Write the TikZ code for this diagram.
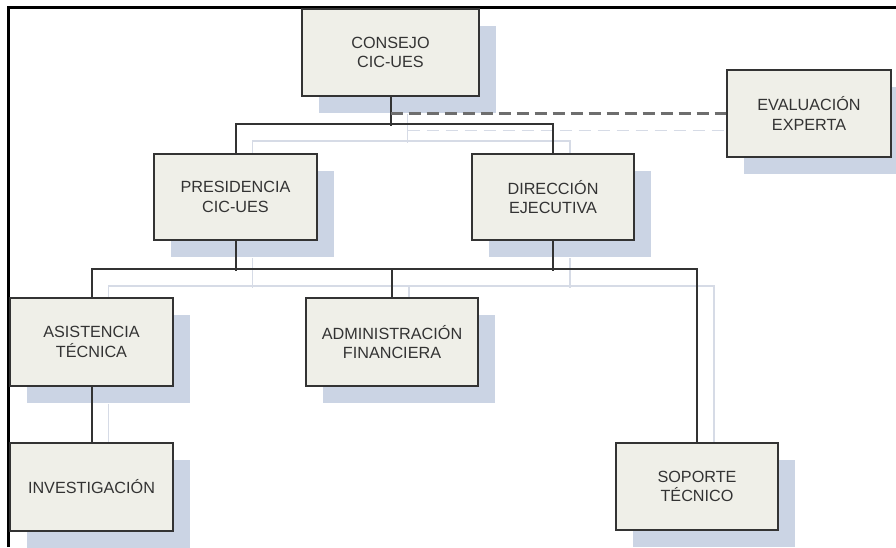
\documentclass[tikz,border=0pt]{standalone}
\usepackage{fontspec}
\setmainfont{Liberation Sans}
\usetikzlibrary{shadows,calc}
\pgfdeclarelayer{bg}
\pgfsetlayers{bg,main}
\definecolor{boxfill}{HTML}{EFEFE8}
\definecolor{shadowc}{HTML}{CBD4E4}
\definecolor{lightln}{HTML}{D6DBE6}
\definecolor{darkln}{HTML}{333333}
\definecolor{txtc}{HTML}{333333}
\definecolor{dashc}{HTML}{6E6E6E}
\begin{document}
\begin{tikzpicture}[x=1pt,y=-1pt,
  unit/.style={draw=darkln, line width=1.8pt, fill=boxfill, text=txtc,
    align=center, font=\fontsize{16.2}{19.5}\selectfont, inner sep=0pt,
    general shadow={fill=shadowc, shadow xshift=17pt, shadow yshift=-17pt}},
  link/.style={draw=darkln, line width=2pt},
  dashlink/.style={draw=dashc, line width=2.8pt, dash pattern=on 12pt off 6pt},
  ghost/.style={draw=lightln, line width=1.5pt},
  ghostdash/.style={draw=lightln, line width=1.5pt, dash pattern=on 12pt off 7pt},
  sh/.style={xshift=17pt, yshift=-17pt}]
\useasboundingbox (0,0) rectangle (896,547);
\clip (0,0) rectangle (896,547);
% frame
\draw[line width=3pt, black] (8,547) -- (8,7) -- (896,7);
% boxes
\node[unit, minimum width=177pt, minimum height=87pt] (consejo) at (390.5,52.5) {CONSEJO\\CIC-UES};
\node[unit, minimum width=164pt, minimum height=87pt] (eval) at (809,113.5) {EVALUACIÓN\\EXPERTA};
\node[unit, minimum width=163pt, minimum height=86pt] (pres) at (235.5,197) {PRESIDENCIA\\CIC-UES};
\node[unit, minimum width=162pt, minimum height=86pt] (dir) at (553,197) {DIRECCIÓN\\EJECUTIVA};
\node[unit, minimum width=163pt, minimum height=88pt] (asis) at (91.5,342) {ASISTENCIA\\TÉCNICA};
\node[unit, minimum width=172pt, minimum height=88pt] (adm) at (392,342) {ADMINISTRACIÓN\\FINANCIERA};
\node[unit, minimum width=163pt, minimum height=88pt] (inv) at (91.5,487) {INVESTIGACIÓN};
\node[unit, minimum width=162pt, minimum height=87pt] (sop) at (697,486.5) {SOPORTE\\TÉCNICO};
% shadow lines
\begin{pgfonlayer}{bg}
\draw[ghost] ([sh]consejo.south) -- ++(0,29);
\draw[ghost] ([sh]pres.north) -- ++(0,-29) -| ([sh]dir.north);
\draw[ghostdash] ($(consejo.south |- eval.west)+(17,17)$) -- ([sh]eval.west);
\draw[ghost] ([sh]pres.south) -- ++(0,30);
\draw[ghost] ([sh]dir.south) -- ++(0,30);
\draw[ghost] ([sh]asis.north) -- ++(0,-28) -| ([sh]sop.north);
\draw[ghost] ([sh]adm.north) -- ++(0,-28);
\draw[ghost] ([sh]asis.south) -- ([sh]inv.north);
\end{pgfonlayer}
% connectors
\draw[link] (consejo.south) -- ++(0,29);
\draw[link] (pres.north) -- ++(0,-29) -| (dir.north);
\draw[dashlink] (consejo.south |- eval.west) -- (eval.west);
\draw[link] (pres.south) -- ++(0,30);
\draw[link] (dir.south) -- ++(0,30);
\draw[link] (asis.north) -- ++(0,-28) -| (sop.north);
\draw[link] (adm.north) -- ++(0,-28);
\draw[link] (asis.south) -- (inv.north);
\end{tikzpicture}
\end{document}
